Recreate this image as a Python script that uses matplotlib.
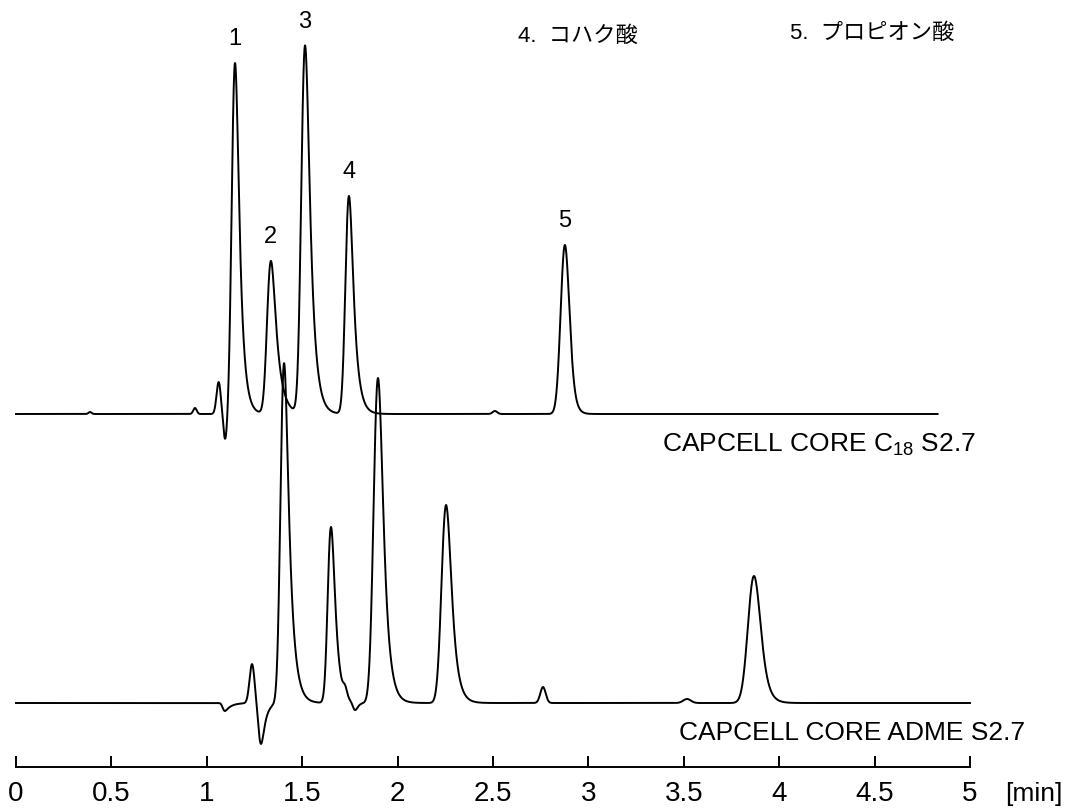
import numpy as np
import matplotlib
matplotlib.use("Agg")
import matplotlib.pyplot as plt

plt.rcParams['font.family'] = ['Liberation Sans', 'Noto Sans CJK JP', 'DejaVu Sans']
plt.rcParams['mathtext.fontset'] = 'custom'
plt.rcParams['mathtext.rm'] = 'Liberation Sans'

# ---------------- data ----------------
# upper chromatogram: CAPCELL CORE C18 S2.7
top_rt     = [0.388, 0.938, 1.062, 1.097, 1.148, 1.336, 1.515, 1.745, 2.510, 2.877]
top_height = [2,     6,     32,    -27,   351,   153,   368,   218,   3,     169]
top_sigma  = [0.008, 0.009, 0.011, 0.009, 0.014, 0.016, 0.016, 0.015, 0.012, 0.020]
top_tau    = [0.0,   0.0,   0.0,   0.006, 0.022, 0.030, 0.026, 0.024, 0.0,   0.016]
top_end = 4.83

# lower chromatogram: CAPCELL CORE ADME S2.7
bot_rt     = [1.095, 1.237, 1.284, 1.405, 1.651, 1.725, 1.777, 1.897, 2.254, 2.762, 3.517, 3.868]
bot_height = [-8,    39,    -41,   340,   176,   8,     -8,    325,   198,   16,    4,     127]
bot_sigma  = [0.008, 0.013, 0.011, 0.015, 0.014, 0.010, 0.010, 0.019, 0.020, 0.014, 0.020, 0.028]
bot_tau    = [0.03,  0.0,   0.02,  0.026, 0.022, 0.0,   0.012, 0.026, 0.026, 0.0,   0.0,   0.026]
bot_end = 5.0

peak_numbers = ['1', '2', '3', '4', '5']
peak_number_rt = [1.148, 1.336, 1.515, 1.745, 2.877]

legend_items = ['4.  コハク酸', '5.  プロピオン酸']
column_names = ['CAPCELL CORE C$_{\\mathregular{18}}$ S2.7', 'CAPCELL CORE ADME S2.7']

x_ticks = [0, 0.5, 1, 1.5, 2, 2.5, 3, 3.5, 4, 4.5, 5]
x_tick_labels = ['0', '0.5', '1', '1.5', '2', '2.5', '3', '3.5', '4', '4.5', '5']
x_unit = '[min]'

top_offset = 353
bot_offset = 64


def peak(t, rt, h, sigma, tau):
    g = np.exp(-0.5 * ((t - rt) / sigma) ** 2)
    if tau > 0:
        dt = t[1] - t[0]
        kt = np.arange(0, 10 * tau, dt)
        k = np.exp(-kt / tau)
        c = np.convolve(g, k)[:len(t)]
        shift_t = t[np.argmax(c)] - rt
        g2 = np.exp(-0.5 * ((t - rt + shift_t) / sigma) ** 2)
        c = np.convolve(g2, k)[:len(t)]
        g = c / c.max()
    return h * g


def trace(end, rts, hs, ss, ts):
    t = np.arange(0, end + 1e-9, 0.0005)
    y = np.zeros_like(t)
    for rt, h, s, tau in zip(rts, hs, ss, ts):
        y += peak(t, rt, h, s, tau)
    return t, y


W, H = 1075, 809
fig = plt.figure(figsize=(W / 100, H / 100), dpi=100)
ax = fig.add_axes([0, 0, 1, 1])
px_per_min = 190.8
ax.set_xlim(-16 / px_per_min, (W - 16) / px_per_min)
ax.set_ylim(-(H - 767), 767)

t1, y1 = trace(top_end, top_rt, top_height, top_sigma, top_tau)
t2, y2 = trace(bot_end, bot_rt, bot_height, bot_sigma, bot_tau)
ax.plot(t1, y1 + top_offset, color='black', lw=1.4)
ax.plot(t2, y2 + bot_offset, color='black', lw=1.4)

# peak numbers
for lab, rt in zip(peak_numbers, peak_number_rt):
    i = np.argmin(np.abs(t1 - rt))
    ax.annotate(lab, (rt, y1[i] + top_offset), xytext=(0, 17), textcoords='offset points',
                ha='center', va='center', fontsize=17)

# compound names at top
ax.text(2.632, 731, legend_items[0], fontsize=16, va='center', ha='left')
ax.text(4.057, 734, legend_items[1], fontsize=16, va='center', ha='left')

# column names
ax.text(5.03, 322, column_names[0], fontsize=19, ha='right', va='center')
ax.text(5.29, 34, column_names[1], fontsize=19, ha='right', va='center')

# axis
for s in ['top', 'left', 'right']:
    ax.spines[s].set_visible(False)
ax.spines['bottom'].set_position(('data', 0))
ax.spines['bottom'].set_bounds(0, 5)
ax.spines['bottom'].set_linewidth(1.4)
ax.set_yticks([])
ax.set_xticks(x_ticks)
ax.set_xticklabels(x_tick_labels, fontsize=20)
ax.tick_params(axis='x', direction='in', length=8, width=1.4, pad=10)
ax.patch.set_visible(False)

ax.text(5.183, -27, x_unit, fontsize=19, va='center', ha='left')

fig.savefig('out.png', dpi=100, facecolor='white')
